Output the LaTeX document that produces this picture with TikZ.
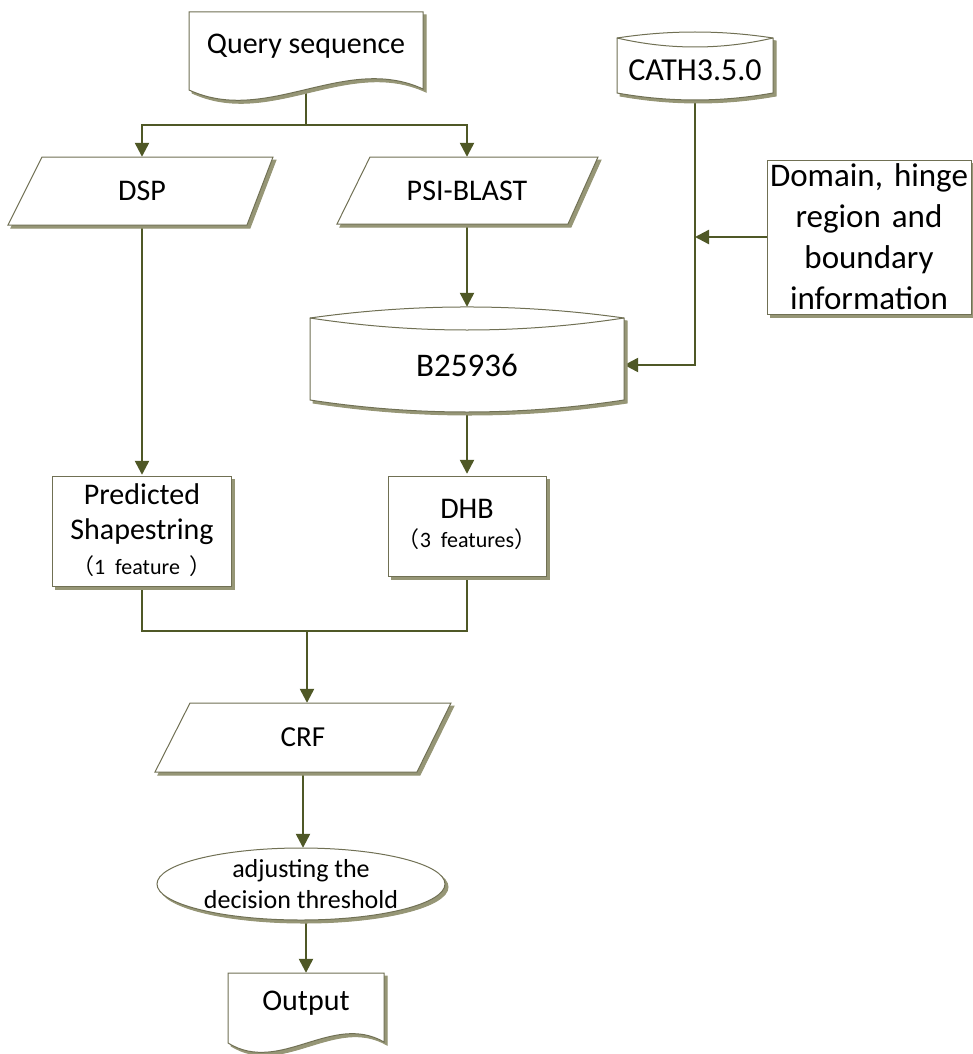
\documentclass[tikz,border=0pt]{standalone}
\usepackage{fontspec}
\setmainfont{Carlito}
\newfontfamily\cjk{Noto Sans CJK SC}
\usetikzlibrary{arrows.meta,calc}
\definecolor{conncol}{RGB}{79,88,38}
\definecolor{edgecol}{RGB}{112,112,84}
\definecolor{shadecol}{RGB}{150,150,118}
\pgfdeclarelayer{conns}
\pgfsetlayers{conns,main}
\tikzset{
  conn/.style={draw=conncol, line width=2.4pt},
  arr/.style={conn, -{Triangle[length=14pt,width=14pt]}},
  outl/.style={draw=edgecol, line width=1pt, fill=white},
  shade/.style={fill=shadecol, draw=shadecol, line width=1pt},
  lbl/.style={draw=none, inner sep=0pt, align=center, text=black},
}
\newcommand{\shadedpath}[1]{\path[shade,xshift=3pt,yshift=-3pt] #1; \path[outl] #1;}
\begin{document}
\begin{tikzpicture}[x=1pt,y=-1pt]
\useasboundingbox (0,0) rectangle (973,1054);

% ---------- shapes ----------
% Query sequence (document)
\shadedpath{(189,12) -- (423,12) -- (423,89) .. controls (345,53) and (267,126) .. (189,90) -- cycle}
% CATH3.5.0 (cylinder)
\shadedpath{(617,38) .. controls (669,30) and (721,30) .. (773,38) -- (773,93) .. controls (721,102.3) and (669,102.3) .. (617,93) -- cycle}
\draw[edgecol, line width=1pt] (617,38) .. controls (669,50) and (721,50) .. (773,38);
% Domain box
\shadedpath{(767,160) rectangle (971,314)}
% DSP
\shadedpath{(8,225) -- (42,157) -- (273,157) -- (247,225) -- cycle}
% PSI-BLAST
\shadedpath{(337,224) -- (370,157) -- (598,157) -- (568,224) -- cycle}
% B25936 (cylinder)
\shadedpath{(310,318) .. controls (414.7,303.3) and (519.3,303.3) .. (624,318) -- (624,400) .. controls (519.3,416) and (414.7,416) .. (310,400) -- cycle}
\draw[edgecol, line width=1pt] (310,318) .. controls (414.7,334) and (519.3,334) .. (624,318);
% Predicted Shapestring
\shadedpath{(52.5,476) rectangle (231.5,586)}
% DHB
\shadedpath{(388,476) rectangle (546,576)}
% CRF
\shadedpath{(155,772) -- (190,703) -- (451,703) -- (417,772) -- cycle}
% ellipse
\shadedpath{(301,884) ellipse [x radius=144pt, y radius=36pt]}
% Output (document)
\shadedpath{(228,973) -- (384,973) -- (384,1042) .. controls (332,1012) and (280,1075) .. (228,1043) -- cycle}

% ---------- nodes ----------
\node[lbl, minimum width=234pt, minimum height=68pt, font=\fontsize{30}{36}\selectfont] (q) at (306,46) {Query sequence};
\node[lbl, minimum width=156pt, minimum height=60pt, font=\fontsize{32}{38}\selectfont] (cath) at (695,70) {CATH3.5.0};
\node[lbl, text width=204pt, minimum height=154pt, font=\fontsize{33}{41}\selectfont] (dom) at (869,237) {Domain,~hinge\\region and\\boundary\\information};
\node[lbl, minimum width=200pt, minimum height=68pt, font=\fontsize{30}{36}\selectfont] (dsp) at (142,191) {DSP};
\node[lbl, minimum width=200pt, minimum height=67pt, font=\fontsize{30}{36}\selectfont] (psi) at (467,190.5) {PSI-BLAST};
\node[lbl, minimum width=314pt, minimum height=94pt, font=\fontsize{33}{38}\selectfont] (b) at (467,365) {B25936};
\node[lbl, text width=179pt, minimum height=110pt, font=\fontsize{30}{35}\selectfont] (pred) at (142,530) {Predicted\\Shapestring\\{\fontsize{22}{33}\selectfont{\cjk （}1 feature {\cjk ）}}};
\node[lbl, text width=158pt, minimum height=100pt, font=\fontsize{30}{29}\selectfont] (dhb) at (467,524) {DHB\\{\fontsize{22}{29}\selectfont{\cjk （}3 features{\cjk ）}}};
\node[lbl, minimum width=230pt, minimum height=69pt, font=\fontsize{29}{35}\selectfont] (crf) at (303,737.5) {CRF};
\node[lbl, minimum width=288pt, minimum height=72pt, font=\fontsize{26}{31}\selectfont] (adj) at (301,884) {adjusting the\\decision threshold};
\node[lbl, minimum width=156pt, minimum height=60pt, font=\fontsize{30}{36}\selectfont] (out) at (306,1003) {Output};

% ---------- connectors ----------
\begin{pgfonlayer}{conns}
\coordinate (j1) at (306,125);
\coordinate (j2) at (307,631);
\coordinate (btop) at ([yshift=11pt]b.north);
\draw[conn] (q.south) -- (j1);
\draw[arr] (j1) -| (dsp.north);
\draw[arr] (j1) -| (psi.north);
\draw[arr] (dsp.south) -- (pred.north);
\draw[arr] (psi.south) -- (btop);
\draw[arr] (cath.south) |- (b.east);
\draw[arr] (dom.west) -- (cath.south |- dom.west);
\draw[arr] (b.south) -- (dhb.north);
\draw[conn] (pred.south) -- (pred.south |- j2) -- (dhb.south |- j2) -- (dhb.south);
\draw[arr] (j2) -- (j2 |- crf.north);
\draw[arr] (crf.south) -- (crf.south |- adj.north);
\draw[arr] (adj.south -| out.north) -- (out.north);
\end{pgfonlayer}
\end{tikzpicture}
\end{document}
